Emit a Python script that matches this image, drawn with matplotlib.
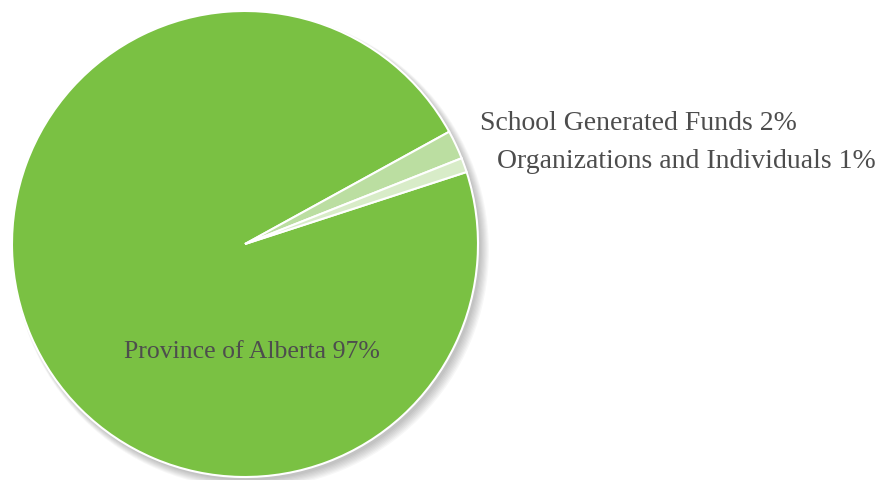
import numpy as np
import matplotlib.pyplot as plt
from matplotlib.patches import Circle

# funding sources
labels = ["Province of Alberta", "School Generated Funds", "Organizations and Individuals"]
shares = [97, 2, 1]
colors = ["#7AC143", "#BBDEA1", "#D8ECC8"]

W, H = 882, 480
fig = plt.figure(figsize=(W / 100, H / 100), dpi=100)

# pie sits in a square box: centre ~ (245, 244) px, radius ~ 233 px
cx, cy, r = 245, 244, 233
ax = fig.add_axes([(cx - r) / W, (H - cy - r) / H, 2 * r / W, 2 * r / H])
ax.set_xlim(-1, 1)
ax.set_ylim(-1, 1)
ax.set_aspect("equal")
ax.axis("off")

# soft drop shadow, down and to the right
for i in range(8):
    ax.add_patch(Circle((0.012 + i * 0.002, -0.014 - i * 0.002), 1.0 + i * 0.003,
                        facecolor="black", edgecolor="none", alpha=0.03, zorder=0,
                        clip_on=False))

wedges, _ = ax.pie(shares, colors=colors, startangle=18, counterclock=False, radius=1.0,
                   wedgeprops=dict(edgecolor="white", linewidth=1.5, zorder=1))
for w in wedges:
    w.set_clip_on(False)
ax.set_xlim(-1, 1)
ax.set_ylim(-1, 1)

font = dict(family=["Liberation Serif", "DejaVu Serif"], color="#4d4d4d")

def px(x, y):
    return x / W, 1 - y / H

fig.text(*px(480, 124), "{} {}%".format(labels[1], shares[1]), ha="left", va="center",
         fontsize=20, **font)
fig.text(*px(497, 162), "{} {}%".format(labels[2], shares[2]), ha="left", va="center",
         fontsize=20, **font)
fig.text(*px(252, 352), "{} {}%".format(labels[0], shares[0]), ha="center", va="center",
         fontsize=18.5, **font)

fig.savefig("out.png", dpi=100)
